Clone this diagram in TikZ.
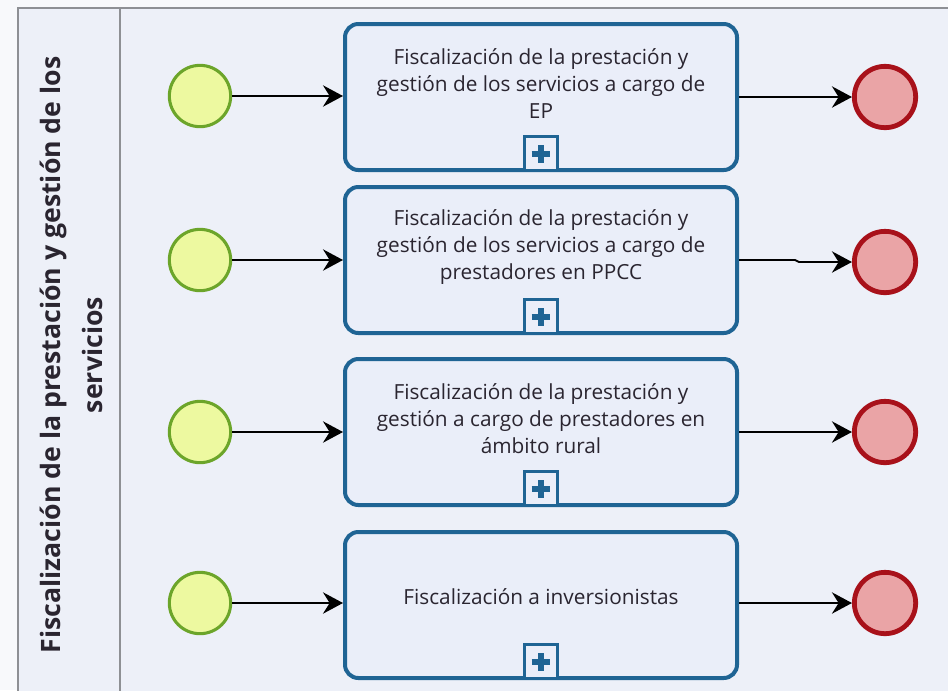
\documentclass[tikz,border=0pt]{standalone}
\usepackage{fontspec}
\setmainfont{Open Sans}
\usetikzlibrary{arrows.meta,calc}
\definecolor{poolbg}{HTML}{EDF0F8}
\definecolor{outbg}{HTML}{F8F9FB}
\definecolor{poolline}{HTML}{8E9094}
\definecolor{taskblue}{HTML}{1F6494}
\definecolor{taskfill}{HTML}{EAEEF9}
\definecolor{startfill}{HTML}{EDF9A0}
\definecolor{startline}{HTML}{6CA52A}
\definecolor{endfill}{HTML}{EAA4A6}
\definecolor{endline}{HTML}{A8111A}
\definecolor{txt}{HTML}{2A2530}
\tikzset{
  x=0.75pt, y=-0.75pt,
  task/.style={draw=taskblue, line width=3pt, fill=taskfill, rounded corners=10pt,
    minimum width=294pt, minimum height=109.5pt, inner sep=0pt},
  tasktext/.style={text=txt, align=center, font=\fontsize{15.6}{20.25}\selectfont, inner sep=0pt},
  startev/.style={circle, draw=startline, line width=2.3pt, fill=startfill, minimum size=46pt, inner sep=0pt},
  endev/.style={circle, draw=endline, line width=3.6pt, fill=endfill, minimum size=46pt, inner sep=0pt},
  marker/.style={draw=taskblue, line width=2pt, fill=taskfill, minimum width=25pt, minimum height=25pt, inner sep=0pt, anchor=south},
  flow/.style={draw=black, line width=1.4pt, -{Stealth[length=15pt,width=16pt,inset=5pt]}},
  plusmark/.style={draw=taskblue, line width=4pt}
}
\begin{document}
\begin{tikzpicture}
\useasboundingbox (0,0) rectangle (948,690);
\fill[outbg] (0,0) rectangle (948,690);
% pool
\path[fill=poolbg] (18,8) rectangle (960,700);
\draw[poolline, line width=1.2pt] (960,8) -- (18,8) -- (18,700);
\draw[poolline, line width=1.2pt] (120,8) -- (120,700);
\node[rotate=90, align=center, text=txt, font=\bfseries\fontsize{20}{31.5}\selectfont] (lane) at (71,355)
  {Fiscalización de la prestación y gestión de los\\servicios};

% tasks
\node[task] (t1) at (541,97) {};
\node[task] (t2) at (541,260) {};
\node[task] (t3) at (541,432) {};
\node[task] (t4) at (541,605) {};

\node[tasktext] (x1) at ([yshift=10pt]t1.center) {Fiscalización de la prestación y\\gestión de los servicios a cargo de\\EP};
\node[tasktext] (x2) at ([yshift=10pt]t2.center) {Fiscalización de la prestación y\\gestión de los servicios a cargo de\\prestadores en PPCC};
\node[tasktext] (x3) at ([yshift=10pt]t3.center) {Fiscalización de la prestación y\\gestión a cargo de prestadores en\\ámbito rural};
\node[tasktext] (x4) at ([yshift=6pt]t4.center) {Fiscalización a inversionistas};

\foreach \t in {t1,t2,t3,t4}{
  \node[marker] (m\t) at ([yshift=0.6pt]\t.south) {};
  \draw[plusmark] ([yshift=-7pt]m\t.center) -- ([yshift=6pt]m\t.center);
  \draw[plusmark] ([xshift=-7pt,yshift=-0.5pt]m\t.center) -- ([xshift=7pt,yshift=-0.5pt]m\t.center);
}

% events
\node[startev] (s1) at (200,96) {};
\node[startev] (s2) at (200,260) {};
\node[startev] (s3) at (200,432) {};
\node[startev] (s4) at (200,603) {};
\node[endev] (e1) at (885,97) {};
\node[endev] (e2) at (885,262) {};
\node[endev] (e3) at (885,432) {};
\node[endev] (e4) at (885,603) {};

% flows
\foreach \i in {1,2,3,4}{
  \draw[flow] (s\i.east) -- (s\i -| t\i.west);
}
\draw[flow] (t1.east |- e1) -- (e1.west);
\draw[flow] (t2.east) -- (795,260) -- (799,262) -- (e2.west);
\draw[flow] (t3.east |- e3) -- (e3.west);
\draw[flow] (t4.east |- e4) -- (e4.west);
\end{tikzpicture}
\end{document}
